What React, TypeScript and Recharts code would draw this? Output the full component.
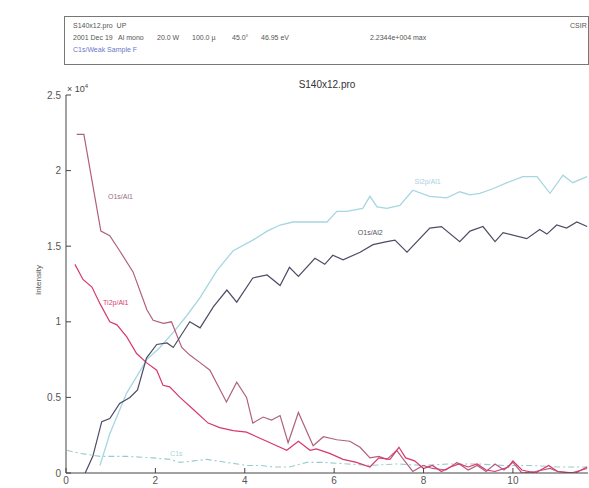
import React from 'react';
import { LineChart, Line, XAxis, YAxis, ReferenceDot } from 'recharts';

// depth profile traces, [sputter time, intensity / 1e4]
const o1sAl1: [number, number][] = [
  [0.24, 2.24], [0.4, 2.24], [0.78, 1.6], [0.98, 1.57], [1.2, 1.47], [1.5, 1.33], [1.81, 1.08],
  [1.95, 1.01], [2.18, 0.99], [2.36, 1.0], [2.59, 0.83], [2.77, 0.78], [3.0, 0.73], [3.22, 0.68],
  [3.59, 0.47], [3.82, 0.6], [4.04, 0.5], [4.18, 0.33], [4.41, 0.37], [4.6, 0.35], [4.79, 0.38],
  [4.97, 0.2], [5.2, 0.4], [5.53, 0.18], [5.76, 0.24], [6.06, 0.22], [6.35, 0.21], [6.58, 0.17],
  [6.8, 0.1], [7.0, 0.11], [7.18, 0.09], [7.4, 0.15], [7.55, 0.09], [7.76, 0.01], [7.99, 0.05],
  [8.2, 0.03], [8.5, 0.02], [8.75, 0.07], [9.0, 0.02], [9.2, 0.05], [9.4, 0.01], [9.6, 0.06],
  [9.8, 0.02], [10.0, 0.07], [10.2, 0.0], [10.5, 0.01], [10.83, 0.03], [11.0, 0.01], [11.3, 0.0],
  [11.66, 0.03],
];

const ti2pAl1: [number, number][] = [
  [0.2, 1.38], [0.38, 1.28], [0.58, 1.23], [0.76, 1.12], [0.98, 1.0], [1.14, 0.98], [1.36, 0.9],
  [1.58, 0.79], [1.8, 0.73], [2.03, 0.68], [2.17, 0.58], [2.32, 0.57], [2.55, 0.5], [2.85, 0.42],
  [3.18, 0.33], [3.44, 0.3], [3.74, 0.28], [4.04, 0.27], [4.34, 0.23], [4.64, 0.19], [4.94, 0.15],
  [5.2, 0.21], [5.46, 0.15], [5.6, 0.16], [5.9, 0.13], [6.2, 0.09], [6.5, 0.07], [6.8, 0.04],
  [7.0, 0.1], [7.25, 0.09], [7.45, 0.17], [7.6, 0.1], [7.8, 0.08], [8.0, 0.03], [8.2, 0.05],
  [8.4, 0.01], [8.6, 0.04], [8.8, 0.06], [9.0, 0.04], [9.2, 0.06], [9.4, 0.02], [9.6, 0.01],
  [9.9, 0.04], [10.0, 0.08], [10.2, 0.02], [10.5, 0.0], [10.8, 0.05], [11.0, 0.01], [11.4, 0.0],
  [11.66, 0.04],
];

const si2pAl1: [number, number][] = [
  [0.76, 0.05], [0.98, 0.26], [1.36, 0.53], [1.81, 0.75], [2.1, 0.83], [2.4, 0.93], [2.7, 1.04],
  [3.0, 1.16], [3.38, 1.34], [3.74, 1.47], [4.18, 1.54], [4.5, 1.6], [4.79, 1.64], [5.08, 1.66],
  [5.46, 1.66], [5.84, 1.66], [6.06, 1.73], [6.28, 1.73], [6.64, 1.75], [6.8, 1.83], [6.96, 1.76],
  [7.18, 1.75], [7.47, 1.77], [7.76, 1.87], [8.14, 1.83], [8.52, 1.82], [8.81, 1.86], [9.04, 1.84],
  [9.26, 1.85], [9.55, 1.88], [9.87, 1.92], [10.22, 1.96], [10.54, 1.96], [10.83, 1.85],
  [11.12, 1.97], [11.34, 1.92], [11.66, 1.96],
];

const o1sAl2: [number, number][] = [
  [0.43, 0.0], [0.6, 0.11], [0.8, 0.34], [0.98, 0.36], [1.2, 0.46], [1.43, 0.5], [1.6, 0.55],
  [1.8, 0.76], [2.03, 0.85], [2.26, 0.86], [2.4, 0.83], [2.77, 1.0], [3.0, 0.96], [3.3, 1.1],
  [3.6, 1.21], [3.82, 1.13], [4.18, 1.29], [4.5, 1.31], [4.79, 1.24], [5.0, 1.36], [5.2, 1.3],
  [5.57, 1.42], [5.79, 1.38], [5.97, 1.44], [6.2, 1.41], [6.58, 1.46], [6.87, 1.51], [7.18, 1.53],
  [7.36, 1.54], [7.63, 1.46], [8.14, 1.62], [8.4, 1.63], [8.81, 1.53], [9.04, 1.6], [9.33, 1.63],
  [9.6, 1.53], [9.78, 1.59], [10.31, 1.55], [10.6, 1.61], [10.76, 1.58], [10.98, 1.64],
  [11.2, 1.62], [11.43, 1.66], [11.66, 1.63],
];

const c1s: [number, number][] = [
  [0.02, 0.15], [0.31, 0.13], [0.76, 0.11], [1.36, 0.11], [1.95, 0.1], [2.33, 0.09], [2.55, 0.07],
  [2.85, 0.08], [3.15, 0.09], [3.6, 0.07], [4.04, 0.05], [4.34, 0.05], [4.64, 0.04], [5.0, 0.04],
  [5.39, 0.07], [5.76, 0.07], [6.3, 0.06], [6.8, 0.05], [7.4, 0.06], [8.0, 0.05], [8.6, 0.06],
  [9.2, 0.06], [9.8, 0.05], [10.4, 0.05], [11.0, 0.04], [11.66, 0.04],
];

// in-plot trace labels: [x, y, text, colour]
const traceLabels: [number, number, string, string][] = [
  [0.94, 1.83, 'O1s/Al1', '#9a7080'],
  [0.83, 1.13, 'Ti2p/Al1', '#d83c72'],
  [7.8, 1.93, 'Si2p/Al1', '#a8d0dc'],
  [6.53, 1.59, 'O1s/Al2', '#555566'],
  [2.33, 0.13, 'C1s', '#a8d4d4'],
];

const xTicks = [0, 2, 4, 6, 8, 10];
const yTicks = [0, 0.5, 1, 1.5, 2, 2.5];

const FONT = '"Liberation Sans", Arial, sans-serif';
const AXIS = '#444';

const toPoints = (pts: [number, number][]) => pts.map(([x, y]) => ({ x, y }));

const BottomTick = (props: any) => {
  const { x, y, payload } = props;
  return (
    <g>
      <line x1={x} x2={x} y1={y - 4} y2={y - 9} stroke={AXIS} />
      <text x={x} y={y} dy="0.71em" textAnchor="middle" fontSize={10} fill="#555" fontFamily={FONT}>
        {payload.value}
      </text>
    </g>
  );
};

const LeftTick = (props: any) => {
  const { x, y, payload } = props;
  return (
    <g>
      <line x1={x + 5} x2={x + 10} y1={y} y2={y} stroke={AXIS} />
      <text x={x} y={y} dy="0.35em" textAnchor="end" fontSize={10} fill="#555" fontFamily={FONT}>
        {payload.value}
      </text>
    </g>
  );
};

const TopTick = (props: any) => {
  const { x, y } = props;
  return <line x1={x} x2={x} y1={y} y2={y + 5} stroke={AXIS} />;
};

const RightTick = (props: any) => {
  const { x, y } = props;
  return <line x1={x} x2={x - 5} y1={y} y2={y} stroke={AXIS} />;
};

const headerText: React.CSSProperties = {
  position: 'absolute',
  fontFamily: FONT,
  fontSize: 7,
  lineHeight: '10px',
  color: '#555',
  whiteSpace: 'pre',
};

export default function App() {
  return (
    <div style={{ position: 'relative', width: 589, height: 488, background: '#fff', overflow: 'hidden' }}>
      <style>{'body{margin:0}'}</style>

      <div
        style={{
          position: 'absolute',
          left: 64,
          top: 16,
          width: 523,
          height: 47,
          border: '1px solid #777',
        }}
      />
      <div style={{ ...headerText, left: 73, top: 21 }}>S140x12.pro  UP</div>
      <div style={{ ...headerText, left: 570, top: 21 }}>CSIR</div>
      <div style={{ ...headerText, left: 73, top: 33 }}>2001 Dec 19</div>
      <div style={{ ...headerText, left: 118, top: 33 }}>Al mono</div>
      <div style={{ ...headerText, left: 157, top: 33 }}>20.0 W</div>
      <div style={{ ...headerText, left: 192, top: 33 }}>100.0 µ</div>
      <div style={{ ...headerText, left: 232, top: 33 }}>45.0°</div>
      <div style={{ ...headerText, left: 261, top: 33 }}>46.95 eV</div>
      <div style={{ ...headerText, left: 370, top: 33 }}>2.2344e+004 max</div>
      <div style={{ ...headerText, left: 73, top: 45, color: '#6a78c8' }}>C1s/Weak Sample F</div>

      <div
        style={{
          position: 'absolute',
          left: 0,
          width: 654,
          top: 79,
          textAlign: 'center',
          fontFamily: FONT,
          fontSize: 10,
          lineHeight: '12px',
          color: '#333',
        }}
      >
        S140x12.pro
      </div>
      <div
        style={{
          position: 'absolute',
          left: 67,
          top: 81,
          fontFamily: FONT,
          fontSize: 9,
          lineHeight: '10px',
          color: '#444',
          whiteSpace: 'pre',
        }}
      >
        × 10<sup style={{ fontSize: 6 }}>4</sup>
      </div>
      <div
        style={{
          position: 'absolute',
          left: 38,
          top: 280,
          transform: 'translate(-50%, -50%) rotate(-90deg)',
          fontFamily: FONT,
          fontSize: 8,
          color: '#555',
          whiteSpace: 'pre',
        }}
      >
        Intensity
      </div>

      <div style={{ position: 'absolute', left: 0, top: 0 }}>
        <LineChart width={589} height={488} margin={{ top: 95, right: 1, left: 0, bottom: 0 }}>
          <XAxis
            xAxisId="bottom"
            type="number"
            dataKey="x"
            domain={[0, 11.68]}
            ticks={xTicks}
            allowDataOverflow
            height={15}
            tickSize={0}
            tickMargin={4}
            tick={<BottomTick />}
            axisLine={{ stroke: AXIS }}
          />
          <XAxis
            xAxisId="top"
            orientation="top"
            type="number"
            dataKey="x"
            domain={[0, 11.68]}
            ticks={xTicks}
            allowDataOverflow
            height={0}
            tickSize={0}
            tickMargin={0}
            tick={<TopTick />}
            axisLine={{ stroke: AXIS }}
          />
          <YAxis
            yAxisId="left"
            type="number"
            domain={[0, 2.5]}
            ticks={yTicks}
            allowDataOverflow
            width={66}
            tickSize={0}
            tickMargin={5}
            tick={<LeftTick />}
            axisLine={{ stroke: AXIS }}
          />
          <YAxis
            yAxisId="right"
            orientation="right"
            type="number"
            domain={[0, 2.5]}
            ticks={yTicks}
            allowDataOverflow
            width={0}
            tickSize={0}
            tickMargin={0}
            tick={<RightTick />}
            axisLine={{ stroke: AXIS }}
          />

          <Line
            xAxisId="bottom"
            yAxisId="left"
            data={toPoints(c1s)}
            dataKey="y"
            type="linear"
            stroke="#98cccc"
            strokeWidth={1.1}
            strokeDasharray="6 3 2 3"
            dot={false}
            isAnimationActive={false}
          />
          <Line
            xAxisId="bottom"
            yAxisId="left"
            data={toPoints(si2pAl1)}
            dataKey="y"
            type="linear"
            stroke="#a6d6e2"
            strokeWidth={1.3}
            dot={false}
            isAnimationActive={false}
          />
          <Line
            xAxisId="bottom"
            yAxisId="left"
            data={toPoints(o1sAl1)}
            dataKey="y"
            type="linear"
            stroke="#b0607e"
            strokeWidth={1.2}
            dot={false}
            isAnimationActive={false}
          />
          <Line
            xAxisId="bottom"
            yAxisId="left"
            data={toPoints(ti2pAl1)}
            dataKey="y"
            type="linear"
            stroke="#d8386c"
            strokeWidth={1.2}
            dot={false}
            isAnimationActive={false}
          />
          <Line
            xAxisId="bottom"
            yAxisId="left"
            data={toPoints(o1sAl2)}
            dataKey="y"
            type="linear"
            stroke="#4c4c66"
            strokeWidth={1.2}
            dot={false}
            isAnimationActive={false}
          />

          {traceLabels.map(([x, y, text, color]) => (
            <ReferenceDot
              key={text}
              xAxisId="bottom"
              yAxisId="left"
              x={x}
              y={y}
              r={0}
              fill="none"
              stroke="none"
              label={{ value: text, position: 'right', offset: 0, fontSize: 7, fill: color, fontFamily: FONT }}
            />
          ))}
        </LineChart>
      </div>
    </div>
  );
}
